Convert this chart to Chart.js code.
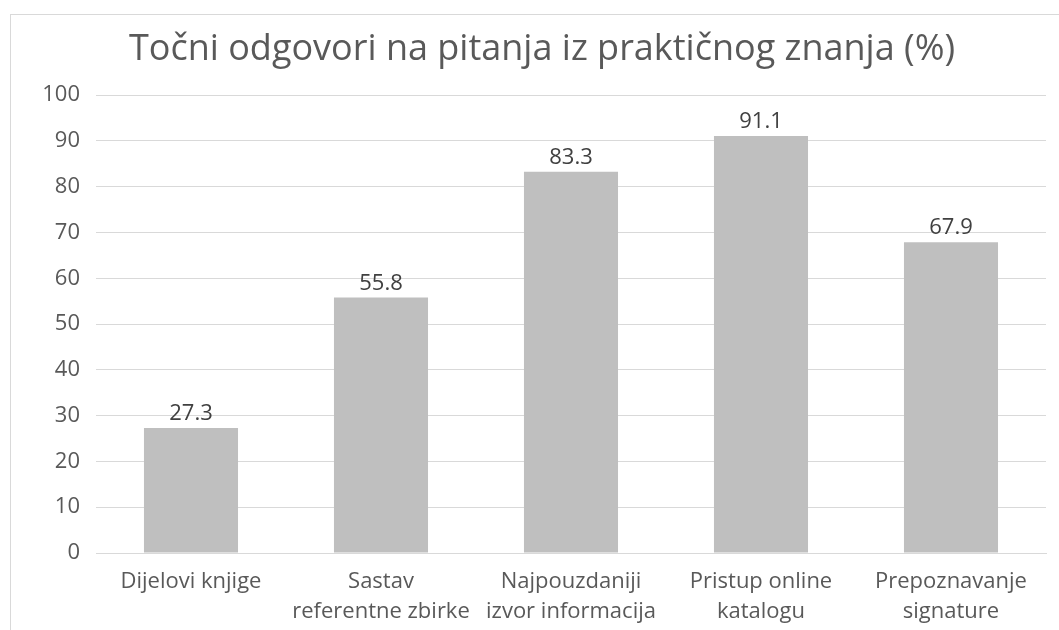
<!DOCTYPE html>
<html>
<head>
<meta charset="utf-8">
<script src="https://cdn.jsdelivr.net/npm/chart.js@4/dist/chart.umd.min.js"></script>
<style>
  html, body { margin: 0; padding: 0; background: #fff; overflow: hidden; }
  #frame { position: absolute; left: 10px; top: 14px; width: 1200px; height: 800px; border: 1px solid #d9d9d9; }
  #wrap { position: absolute; left: 0; top: 0; width: 1059px; height: 630px; }
</style>
</head>
<body>
<div id="frame"></div>
<div id="wrap"><canvas id="c" width="1059" height="630"></canvas></div>
<script>
const categories = [
  ["Dijelovi knjige"],
  ["Sastav", "referentne zbirke"],
  ["Najpouzdaniji", "izvor informacija"],
  ["Pristup online", "katalogu"],
  ["Prepoznavanje", "signature"]
];
const values = [27.3, 55.8, 83.3, 91.1, 67.9];
const yTicks = [0, 10, 20, 30, 40, 50, 60, 70, 80, 90, 100];
const titleText = "Točni odgovori na pitanja iz praktičnog znanja (%)";

const FONT = "'Open Sans', 'DejaVu Sans', sans-serif";

const valueLabels = {
  id: 'valueLabels',
  afterDatasetsDraw(chart) {
    const ctx = chart.ctx;
    const meta = chart.getDatasetMeta(0);
    ctx.save();
    ctx.font = "22px " + FONT;
    ctx.fillStyle = "#404040";
    ctx.textAlign = "center";
    ctx.textBaseline = "alphabetic";
    meta.data.forEach((bar, i) => {
      ctx.fillText(values[i].toFixed(1), bar.x, bar.y - 8);
    });
    ctx.restore();
  }
};

new Chart(document.getElementById('c'), {
  type: 'bar',
  data: {
    labels: categories,
    datasets: [{
      data: values,
      backgroundColor: '#bfbfbf',
      borderWidth: 0,
      categoryPercentage: 1.0,
      barPercentage: 0.495
    }]
  },
  options: {
    responsive: false,
    animation: false,
    layout: { padding: { top: 14, left: 38, right: 13, bottom: 0 } },
    plugins: {
      legend: { display: false },
      tooltip: { enabled: false },
      title: {
        display: true,
        text: titleText,
        color: '#595959',
        font: { family: FONT, size: 36, weight: 'normal', lineHeight: 1.2 },
        padding: { top: 14, bottom: 24 }
      }
    },
    scales: {
      x: {
        grid: { display: false, drawTicks: false },
        border: { display: true, color: '#d9d9d9', width: 1 },
        ticks: {
          color: '#595959',
          font: { family: FONT, size: 22, lineHeight: 30 / 22 },
          padding: 14,
          maxRotation: 0,
          autoSkip: false
        },
        afterFit(scale) { scale.height = 77; }
      },
      y: {
        min: 0,
        max: 100,
        afterBuildTicks(scale) { scale.ticks = yTicks.map(v => ({ value: v })); },
        grid: { color: '#d9d9d9', lineWidth: 1, drawTicks: false },
        border: { display: false },
        ticks: {
          color: '#595959',
          font: { family: FONT, size: 22 },
          padding: 16
        },
        afterFit(scale) { scale.width = 58; }
      }
    }
  },
  plugins: [valueLabels]
});
</script>
</body>
</html>
